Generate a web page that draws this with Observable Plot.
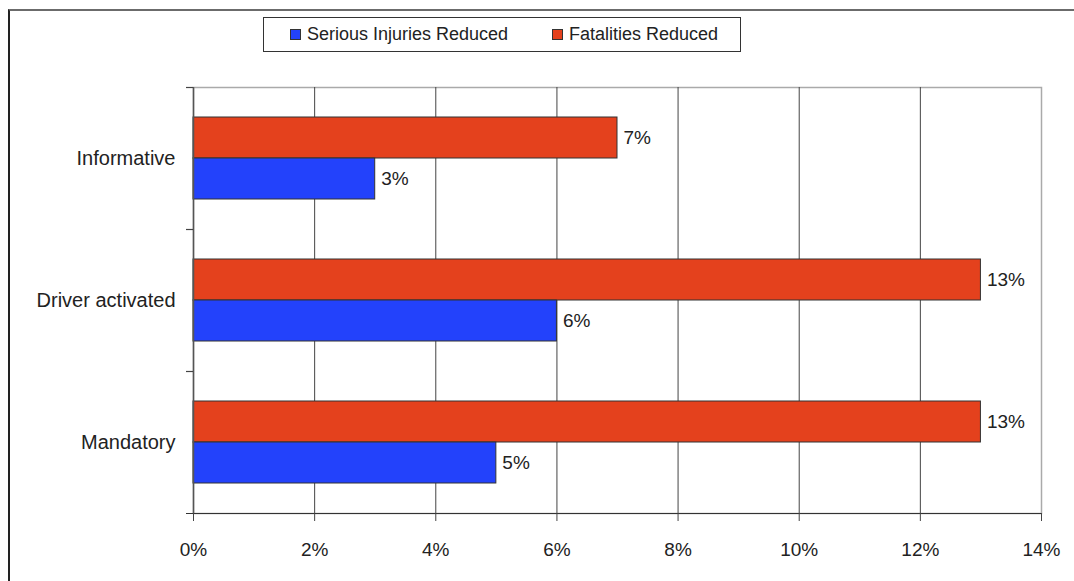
<!DOCTYPE html>
<html>
<head>
<meta charset="utf-8">
<script src="https://cdn.jsdelivr.net/npm/d3@7"></script>
<script src="https://cdn.jsdelivr.net/npm/@observablehq/plot@0.6"></script>
<style>
  html, body { margin: 0; padding: 0; background: #fff; }
  #chart { position: relative; width: 1074px; height: 581px; overflow: hidden;
           font-family: "Liberation Sans", Arial, Helvetica, sans-serif; color: #222; }
  #chart svg { position: absolute; left: 0; top: 0; }
  #frame { position: absolute; left: 8px; top: 9px; right: -10px; bottom: -10px;
           border-top: 2px solid #6b6b6b; border-left: 2px solid #222; pointer-events: none; }
  #legend { position: absolute; left: 263px; top: 17px; width: 476px; height: 33px;
            border: 1px solid #333; background: #fff; font-size: 18px; color: #222; }
  #legend .sw { position: absolute; top: 11px; width: 9px; height: 9px; border: 1px solid #333; }
  #legend .lbl { position: absolute; top: 0; line-height: 33px; white-space: nowrap; }
</style>
</head>
<body>
<div id="chart">
  <div id="legend"></div>
  <div id="frame"></div>
</div>
<script>
// Reduction in casualties by intervention type (percent)
const categories = ["Informative", "Driver activated", "Mandatory"];
const seriesNames = ["Fatalities Reduced", "Serious Injuries Reduced"];
const fatalities = [7, 13, 13];
const seriousInjuries = [3, 6, 5];
const xTicks = [0, 2, 4, 6, 8, 10, 12, 14];
const seriesColors = ["#e4411d", "#2342fb"];
// legend order as shown: blue first, then red
const legendOrder = ["Serious Injuries Reduced", "Fatalities Reduced"];

const W = 1074, H = 581;
const margin = {top: 87, right: 33, bottom: 68, left: 193};
const band = (H - margin.top - margin.bottom) / categories.length; // height of one category band
const half = band / 2;
const barH = 41;         // height of a single bar
const outerPad = 30;     // gap between band edge and first bar

const rows = categories.flatMap((c, i) => [
  {category: c, series: seriesNames[0], value: fatalities[i]},
  {category: c, series: seriesNames[1], value: seriousInjuries[i]}
]);
const fatalRows = rows.filter(d => d.series === seriesNames[0]);
const seriousRows = rows.filter(d => d.series === seriesNames[1]);

const chart = Plot.plot({
  width: W,
  height: H,
  marginTop: margin.top,
  marginRight: margin.right,
  marginBottom: margin.bottom,
  marginLeft: margin.left,
  style: {fontFamily: "Liberation Sans, Arial, sans-serif", fontSize: "19px", color: "#222", background: "transparent", overflow: "visible"},
  x: {domain: [0, 14]},
  y: {domain: categories, padding: 0},
  marks: [
    // plot area border (light)
    Plot.frame({stroke: "#aaa", strokeWidth: 1.5}),
    // vertical gridlines
    Plot.ruleX(xTicks.filter(t => t > 0 && t < 14), {stroke: "#444", strokeWidth: 1}),
    // bars
    Plot.barX(fatalRows, {x: "value", y: "category", fill: seriesColors[0], stroke: "#333", strokeWidth: 1,
                          insetTop: outerPad, insetBottom: band - outerPad - barH}),
    Plot.barX(seriousRows, {x: "value", y: "category", fill: seriesColors[1], stroke: "#333", strokeWidth: 1,
                            insetTop: band - outerPad - barH, insetBottom: outerPad}),
    // left axis line
    Plot.ruleX([0], {stroke: "#555", strokeWidth: 1.5}),
    // category boundary ticks on the left axis
    Plot.ruleY(categories, {y: d => d, x1: 0, x2: 0, insetLeft: -7, dy: -half, stroke: "#444", strokeWidth: 1.2}),
    // bottom axis line
    Plot.ruleY(categories.slice(-1), {y: d => d, x1: 0, x2: 14, insetLeft: -7, dy: half, stroke: "#333", strokeWidth: 1.2}),
    // x axis ticks and labels
    Plot.axisX(xTicks, {tickFormat: d => d + "%", tickSize: 8, tickPadding: 21, stroke: "#444", fill: "#222", fontSize: 19, label: null}),
    // category labels
    Plot.axisY({tickSize: 0, tickPadding: 18, fill: "#222", fontSize: 20, label: null}),
    // value labels
    Plot.text(fatalRows, {x: "value", y: "category", dy: outerPad + barH / 2 - half, dx: 6, textAnchor: "start",
                          text: d => d.value + "%", fill: "#222", fontSize: 19}),
    Plot.text(seriousRows, {x: "value", y: "category", dy: half - outerPad - barH / 2, dx: 6, textAnchor: "start",
                            text: d => d.value + "%", fill: "#222", fontSize: 19})
  ]
});

const root = document.getElementById("chart");
root.insertBefore(chart, root.firstChild);

// legend
const legend = document.getElementById("legend");
const legendPos = {"Serious Injuries Reduced": [26, 43], "Fatalities Reduced": [288, 305]};
legendOrder.forEach(name => {
  const [sx, tx] = legendPos[name];
  const sw = document.createElement("div");
  sw.className = "sw";
  sw.style.left = sx + "px";
  sw.style.background = seriesColors[seriesNames.indexOf(name)];
  legend.appendChild(sw);
  const lbl = document.createElement("div");
  lbl.className = "lbl";
  lbl.style.left = tx + "px";
  lbl.textContent = name;
  legend.appendChild(lbl);
});
</script>
</body>
</html>
